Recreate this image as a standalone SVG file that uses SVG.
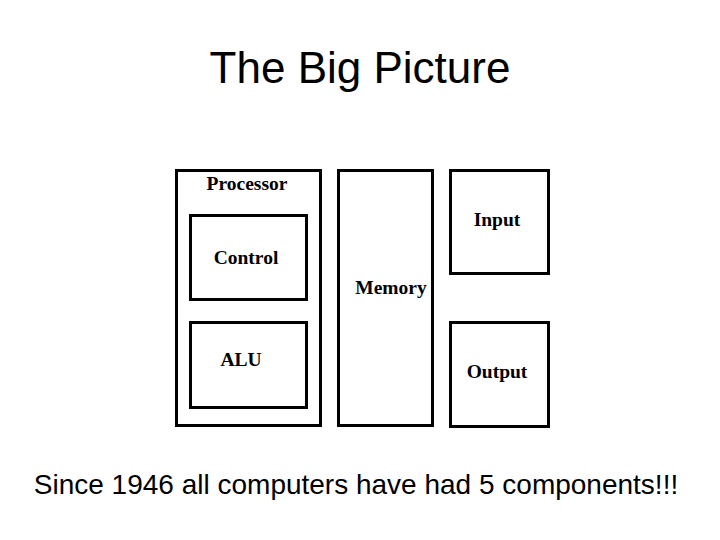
<svg xmlns="http://www.w3.org/2000/svg" width="720" height="540" viewBox="0 0 720 540">
<style>
.box{fill:none;stroke:#000;stroke-width:3}
.lbl{font-family:"Liberation Serif","Times New Roman",serif;font-weight:bold;font-size:19.5px;text-anchor:middle;fill:#000}
.ttl{font-family:"Liberation Sans",Arial,sans-serif;fill:#000;text-anchor:middle}
</style>
<rect width="720" height="540" fill="#fff"/>
<text class="ttl" x="360" y="83" font-size="44">The Big Picture</text>
<g id="processor"><rect class="box" x="176.5" y="170.5" width="144" height="255"/><text class="lbl" x="247" y="190">Processor</text></g>
<g id="control"><rect class="box" x="190.5" y="215.5" width="116" height="84"/><text class="lbl" x="246" y="264">Control</text></g>
<g id="alu"><rect class="box" x="190.5" y="322.5" width="116" height="85"/><text class="lbl" x="241" y="366">ALU</text></g>
<g id="memory"><rect class="box" x="338.5" y="170.5" width="94" height="255"/><text class="lbl" x="391" y="294">Memory</text></g>
<g id="input"><rect class="box" x="450.5" y="170.5" width="98" height="103"/><text class="lbl" x="497" y="226">Input</text></g>
<g id="output"><rect class="box" x="450.5" y="322.5" width="98" height="104"/><text class="lbl" x="497" y="378">Output</text></g>
<g id="connectors"></g>
<text class="ttl" x="356" y="494" font-size="28">Since 1946 all computers have had 5 components!!!</text>
</svg>
